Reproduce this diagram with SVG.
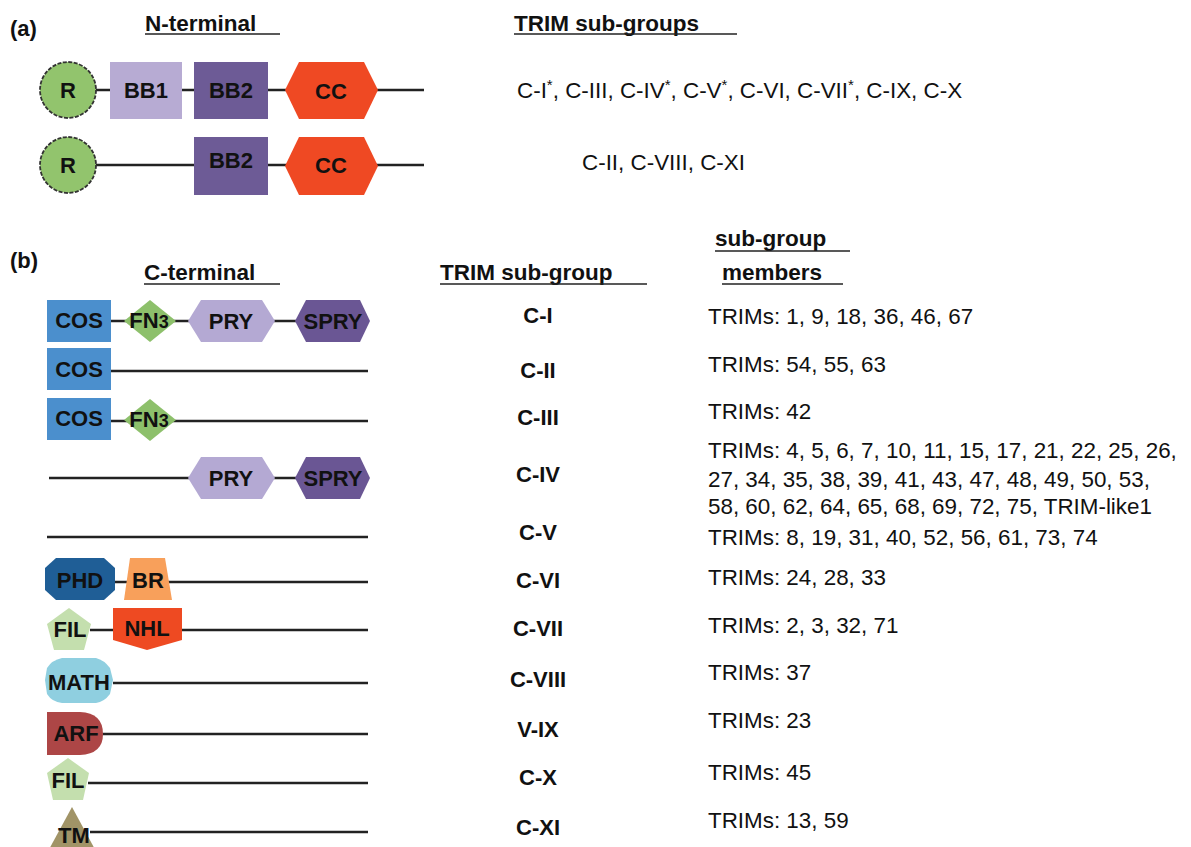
<svg xmlns="http://www.w3.org/2000/svg" width="1191" height="847" viewBox="0 0 1191 847">
<style>
text{font-family:"Liberation Sans",Arial,sans-serif;fill:#111}
.h{font-weight:bold;font-size:22.5px}
.d{font-weight:bold;font-size:22px;text-anchor:middle}
.g{font-weight:bold;font-size:22px;text-anchor:middle}
.m{font-size:22.4px}
.ul{stroke:#222;stroke-width:1.6}
.bb{stroke:#222;stroke-width:2.5;fill:none}
.sup{font-size:15px}
</style>
<rect width="1191" height="847" fill="#fff"/>
<g id="headers">
<text x="10" y="36" class="h" style="font-size:22px">(a)</text>
<text x="145" y="31" class="h">N-terminal</text>
<line x1="145" y1="34" x2="280" y2="34" class="ul"/>
<text x="514" y="31" class="h">TRIM sub-groups</text>
<line x1="514" y1="34" x2="737" y2="34" class="ul"/>
<text x="10" y="268" class="h" style="font-size:22px">(b)</text>
<text x="144" y="280" class="h">C-terminal</text>
<line x1="144" y1="284" x2="280" y2="284" class="ul"/>
<text x="440" y="280" class="h">TRIM sub-group</text>
<line x1="440" y1="284" x2="647" y2="284" class="ul"/>
<text x="715" y="246" class="h">sub-group</text>
<line x1="715" y1="251" x2="850" y2="251" class="ul"/>
<text x="722" y="280" class="h">members</text>
<line x1="722" y1="284" x2="843" y2="284" class="ul"/>
</g>
<g id="connectors">
<line x1="96" y1="90" x2="424" y2="90" class="bb"/>
<line x1="96" y1="165" x2="424" y2="165" class="bb"/>
<line x1="111" y1="321" x2="330" y2="321" class="bb"/>
<line x1="111" y1="371" x2="368" y2="371" class="bb"/>
<line x1="111" y1="421" x2="368" y2="421" class="bb"/>
<line x1="49" y1="478" x2="330" y2="478" class="bb"/>
<line x1="47" y1="537" x2="368" y2="537" class="bb"/>
<line x1="113" y1="582" x2="368" y2="582" class="bb"/>
<line x1="90" y1="630" x2="368" y2="630" class="bb"/>
<line x1="113" y1="683" x2="368" y2="683" class="bb"/>
<line x1="103" y1="734" x2="368" y2="734" class="bb"/>
<line x1="88" y1="783" x2="368" y2="783" class="bb"/>
<line x1="90" y1="832" x2="368" y2="832" class="bb"/>
</g>
<g id="a1-R"><circle cx="68" cy="90" r="28" fill="#92c46d" stroke="#333" stroke-width="1.8" stroke-dasharray="4 1.5"/><text x="68" y="98" class="d">R</text></g>
<g id="a1-BB1"><rect x="110" y="62" width="72" height="57" fill="#b7abd3"/><text x="146" y="98" class="d">BB1</text></g>
<g id="a1-BB2"><rect x="194" y="62" width="74" height="57" fill="#6d5b96"/><text x="231" y="98" class="d">BB2</text></g>
<g id="a1-CC"><polygon points="285,90 299,62 364,62 378,90 364,119 299,119" fill="#ef4923"/><text x="331" y="99" class="d">CC</text></g>
<text x="517" y="98" class="m">C-I<tspan class="sup" dy="-8">*</tspan><tspan dy="8">, C-III, C-IV</tspan><tspan class="sup" dy="-8">*</tspan><tspan dy="8">, C-V</tspan><tspan class="sup" dy="-8">*</tspan><tspan dy="8">, C-VI, C-VII</tspan><tspan class="sup" dy="-8">*</tspan><tspan dy="8">, C-IX, C-X</tspan></text>
<g id="a2-R"><circle cx="68" cy="165" r="28" fill="#92c46d" stroke="#333" stroke-width="1.8" stroke-dasharray="4 1.5"/><text x="68" y="173" class="d">R</text></g>
<g id="a2-BB2"><rect x="194" y="137" width="74" height="58" fill="#6d5b96"/><text x="231" y="168" class="d">BB2</text></g>
<g id="a2-CC"><polygon points="285,166 299,137 364,137 378,166 364,195 299,195" fill="#ef4923"/><text x="331" y="173" class="d">CC</text></g>
<text x="582" y="170" class="m">C-II, C-VIII, C-XI</text>
<g id="b1-COS"><rect x="47" y="300" width="64" height="42" fill="#4b8fcd"/><text x="79" y="328" class="d">COS</text></g>
<g id="b1-FN3"><polygon points="150,300 176,321 150,342 124,321" fill="#8dc06b"/><text x="149" y="328" class="d">FN<tspan style="font-size:18px">3</tspan></text></g>
<g id="b1-PRY"><polygon points="188,321 201,300 262,300 275,321 262,342 201,342" fill="#b4a9d3"/><text x="231" y="329" class="d">PRY</text></g>
<g id="b1-SPRY"><polygon points="295,321 306,300 360,300 370,321 360,342 306,342" fill="#6a5694"/><text x="333" y="329" class="d">SPRY</text></g>
<text x="538" y="323" class="g">C-I</text>
<text x="708" y="324" class="m">TRIMs: 1, 9, 18, 36, 46, 67</text>
<g id="b2-COS"><rect x="47" y="348" width="64" height="42" fill="#4b8fcd"/><text x="79" y="377" class="d">COS</text></g>
<text x="538" y="378" class="g">C-II</text>
<text x="708" y="372" class="m">TRIMs: 54, 55, 63</text>
<g id="b3-COS"><rect x="47" y="398" width="64" height="42" fill="#4b8fcd"/><text x="79" y="426" class="d">COS</text></g>
<g id="b3-FN3"><polygon points="150,399 176,420 150,441 124,420" fill="#8dc06b"/><text x="149" y="427" class="d">FN<tspan style="font-size:18px">3</tspan></text></g>
<text x="538" y="425" class="g">C-III</text>
<text x="708" y="419" class="m">TRIMs: 42</text>
<g id="b4-PRY"><polygon points="188,478 201,457 262,457 275,478 262,499 201,499" fill="#b4a9d3"/><text x="231" y="486" class="d">PRY</text></g>
<g id="b4-SPRY"><polygon points="295,478 306,457 360,457 370,478 360,499 306,499" fill="#6a5694"/><text x="333" y="486" class="d">SPRY</text></g>
<text x="538" y="482" class="g">C-IV</text>
<text x="708" y="458" class="m">TRIMs: 4, 5, 6, 7, 10, 11, 15, 17, 21, 22, 25, 26,</text>
<text x="708" y="487" class="m">27, 34, 35, 38, 39, 41, 43, 47, 48, 49, 50, 53,</text>
<text x="708" y="514" class="m">58, 60, 62, 64, 65, 68, 69, 72, 75, TRIM-like1</text>
<text x="538" y="540" class="g">C-V</text>
<text x="708" y="545" class="m">TRIMs: 8, 19, 31, 40, 52, 56, 61, 73, 74</text>
<g id="b6-PHD"><polygon points="56,558 104,558 115,568 115,590 104,600 56,600 45,590 45,568" fill="#1f5e96"/><text x="80" y="588" class="d">PHD</text></g>
<g id="b6-BR"><polygon points="130,558 165,558 172,600 124,600" fill="#f8a05b"/><text x="148" y="588" class="d">BR</text></g>
<text x="538" y="588" class="g">C-VI</text>
<text x="708" y="585" class="m">TRIMs: 24, 28, 33</text>
<g id="b7-FIL"><polygon points="69,608 91,624 84,650 54,650 47,624" fill="#c4dfae"/><text x="70" y="637" class="d">FIL</text></g>
<g id="b7-NHL"><polygon points="113,608 182,608 182,640 147,650 113,640" fill="#ee4a22"/><text x="147" y="636" class="d">NHL</text></g>
<text x="538" y="636" class="g">C-VII</text>
<text x="708" y="633" class="m">TRIMs: 2, 3, 32, 71</text>
<g id="b8-MATH"><path d="M62,658 L96,658 Q104,660 110,668 L113,680 L110,694 Q104,702 96,703 L62,703 Q52,702 47,694 L45,680 L47,668 Q52,660 62,658 Z" fill="#8fcfe0"/><text x="79" y="690" class="d">MATH</text></g>
<text x="538" y="687" class="g">C-VIII</text>
<text x="708" y="680" class="m">TRIMs: 37</text>
<g id="b9-ARF"><path d="M47,712 L80,712 Q103,713 103,734 Q103,754 80,755 L47,755 Z" fill="#ad4646"/><text x="76" y="741" class="d">ARF</text></g>
<text x="538" y="737" class="g">V-IX</text>
<text x="708" y="728" class="m">TRIMs: 23</text>
<g id="b10-FIL"><polygon points="68,758 89,773 83,800 53,800 47,773" fill="#c4dfae"/><text x="68" y="788" class="d">FIL</text></g>
<text x="538" y="785" class="g">C-X</text>
<text x="708" y="780" class="m">TRIMs: 45</text>
<g id="b11-TM"><polygon points="72,807 104,866 40,866" fill="#a19467"/><text x="74" y="843" class="d">TM</text></g>
<text x="538" y="835" class="g">C-XI</text>
<text x="708" y="828" class="m">TRIMs: 13, 59</text>
</svg>
